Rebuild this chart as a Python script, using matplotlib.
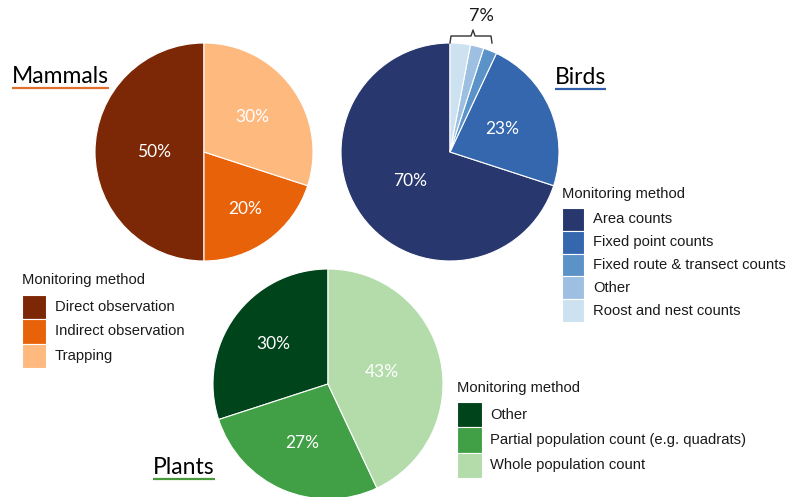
import numpy as np
import matplotlib
matplotlib.use("Agg")
import matplotlib.pyplot as plt
from matplotlib.patches import Rectangle

W, H = 803, 497

# ---- data ----
mammal_methods = ["Direct observation", "Indirect observation", "Trapping"]
mammal_pct = [50, 20, 30]
mammal_colors = ["#7c2806", "#e8620a", "#feb97f"]

bird_methods = ["Area counts", "Fixed point counts", "Fixed route & transect counts",
                "Other", "Roost and nest counts"]
bird_pct = [70, 23, 2, 2, 3]
bird_colors = ["#28386f", "#3467ae", "#5b92c8", "#9dc0e2", "#cde2f1"]

plant_methods = ["Other", "Partial population count (e.g. quadrats)", "Whole population count"]
plant_pct = [30, 27, 43]
plant_colors = ["#00441b", "#41a046", "#b3dcaa"]

TITLE_FONT = ["Lato", "DejaVu Sans"]
LEG_FONT = ["Liberation Sans", "DejaVu Sans"]
LEG_SIZE = 10.6


def Y(y):
    # pixel row (top-down) -> data y (bottom-up)
    return H - y


fig = plt.figure(figsize=(W / 100, H / 100), dpi=100)
ax = fig.add_axes([0, 0, 1, 1])


def draw_pie(values, colors, cx, cy, r, label_dist, min_label=10):
    wedges, _ = ax.pie(values, colors=colors, center=(cx, Y(cy)), radius=r,
                       startangle=90, counterclock=True,
                       wedgeprops=dict(edgecolor="white", linewidth=0.8))
    for w, v, d in zip(wedges, values, label_dist):
        if v < min_label:
            continue
        th = np.deg2rad((w.theta1 + w.theta2) / 2)
        ax.text(cx + r * d * np.cos(th), Y(cy) + r * d * np.sin(th), f"{v}%",
                color="white", fontsize=12.5, family=TITLE_FONT,
                ha="center", va="center")
    return wedges


def draw_legend(x, y_title, y_top, row_h, sw, tx, labels, colors):
    ax.text(x, Y(y_title), "Monitoring method", fontsize=LEG_SIZE, family=LEG_FONT,
            color="#1a1a1a", ha="left", va="center")
    for i, (lab, c) in enumerate(zip(labels, colors)):
        top = y_top + i * row_h
        ax.add_patch(Rectangle((x, Y(top + row_h)), sw, row_h, facecolor=c,
                               edgecolor="white", linewidth=0.8))
        ax.text(tx, Y(top + row_h / 2), lab, fontsize=LEG_SIZE, family=LEG_FONT,
                color="#1a1a1a", ha="left", va="center")


def draw_title(text, x, y_base, color):
    t = ax.text(x, Y(y_base), text, fontsize=16.5, family=TITLE_FONT,
                color="black", ha="left", va="baseline")
    fig.canvas.draw()
    bb = t.get_window_extent().transformed(ax.transData.inverted())
    ax.plot([bb.x0, bb.x1], [Y(y_base + 5), Y(y_base + 5)], color=color, lw=1.6,
            solid_capstyle="butt")


# Mammals
draw_pie(mammal_pct, mammal_colors, 204, 152, 109, [0.46, 0.65, 0.55])
draw_legend(22, 280, 295, 24.3, 24, 55, mammal_methods, mammal_colors)

# Birds
bird_w = draw_pie(bird_pct, bird_colors, 450, 152, 109, [0.45, 0.52, 0, 0, 0])
draw_legend(562, 194, 208, 22.8, 22, 593, bird_methods, bird_colors)
small = sum(bird_pct[2:])
bx = [450, 451, 471, 473, 475, 491, 492]
by = [43, 36, 36, 30, 36, 36, 43]
ax.plot(bx, [Y(v) for v in by], color="#333333", lw=1.0)
ax.text(481, Y(16), f"{small}%", fontsize=13, family=TITLE_FONT,
        color="#1a1a1a", ha="center", va="center")

# Plants
draw_pie(plant_pct, plant_colors, 328, 384, 115, [0.59, 0.56, 0.48])
draw_legend(457, 388, 402, 25.3, 25, 490, plant_methods, plant_colors)

ax.set_xlim(0, W)
ax.set_ylim(0, H)
ax.set_aspect("equal")
ax.axis("off")

draw_title("Mammals", 12, 83, "#e0702a")
draw_title("Birds", 555, 84, "#2f5faa")
draw_title("Plants", 153, 474, "#4a9a3c")

fig.savefig("out.png", dpi=100)
